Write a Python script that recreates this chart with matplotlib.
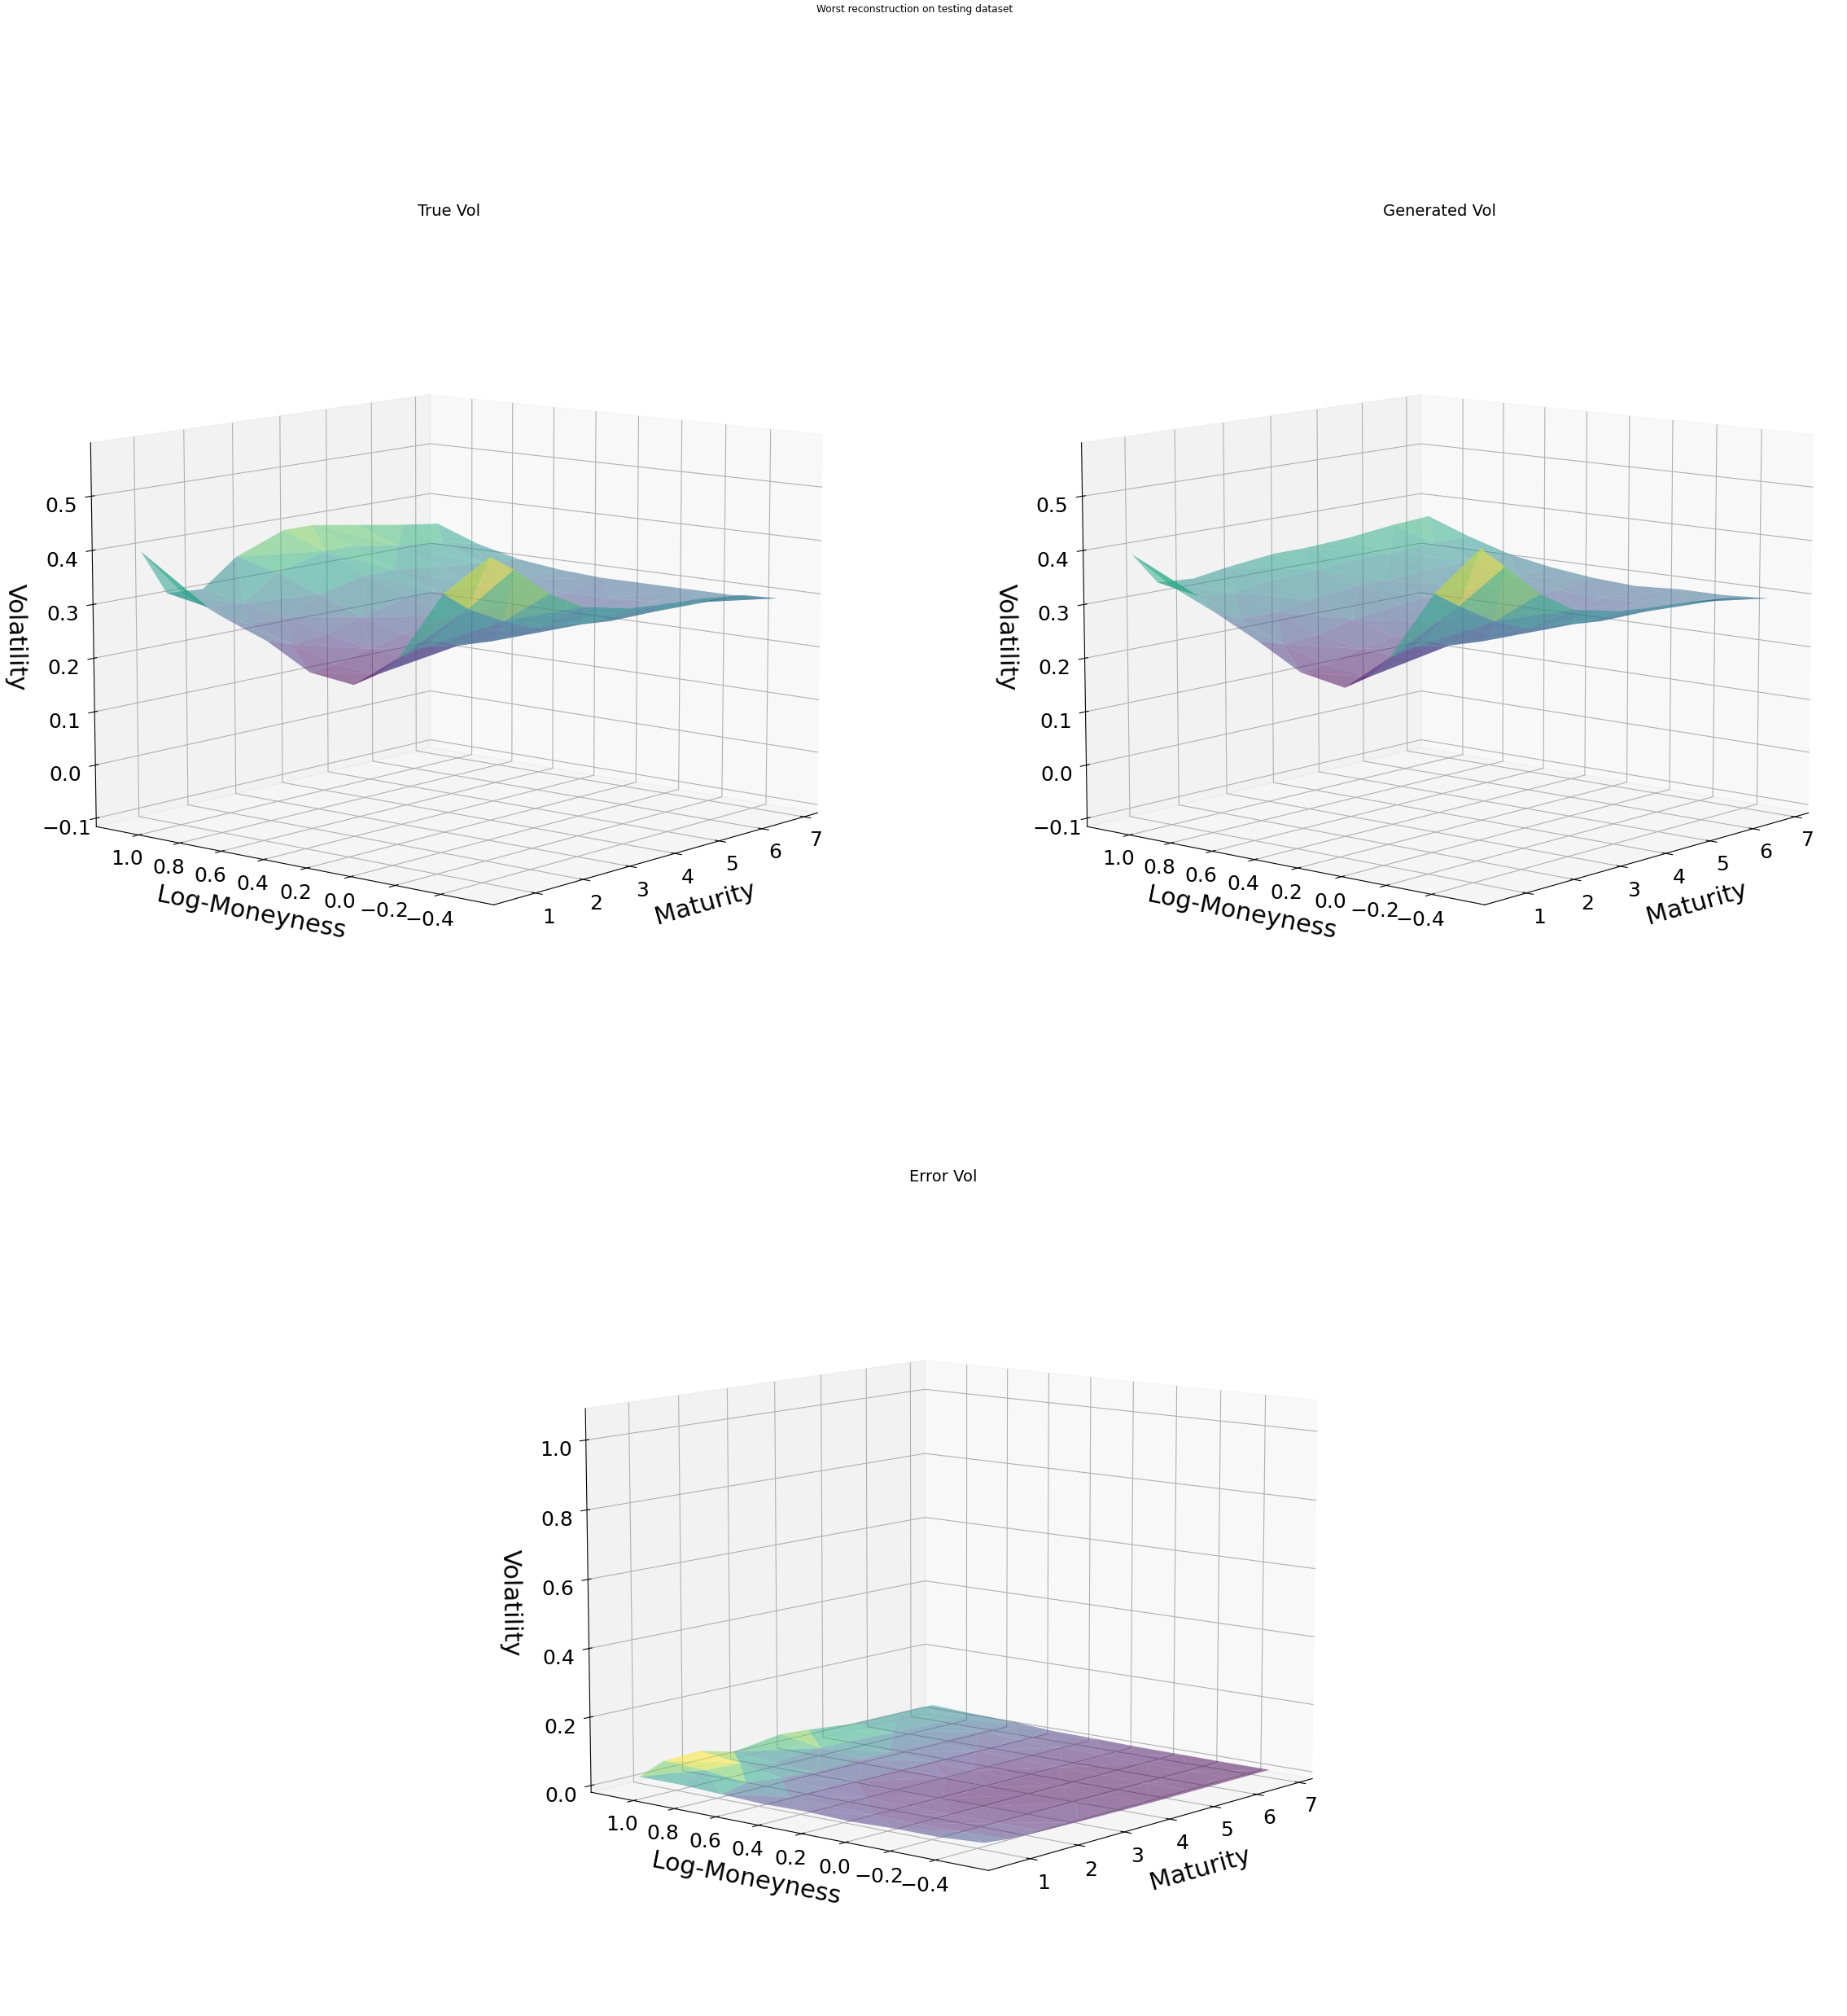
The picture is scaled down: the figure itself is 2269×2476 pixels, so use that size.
import matplotlib
matplotlib.use('Agg')
import matplotlib.pyplot as plt
import numpy as np

moneyness = [1.1, 0.9, 0.7, 0.5, 0.3, 0.1, -0.1, -0.3, -0.5]
maturity = [0.67, 1.17, 1.9, 2.6, 3.6, 4.2, 5.2, 6.2, 7.0]

true_vol = [
    [.395, .330, .295, .265, .220, .210, .270, .395, .470],
    [.310, .295, .275, .250, .225, .220, .280, .360, .440],
    [.305, .290, .275, .255, .240, .235, .270, .325, .385],
    [.355, .335, .305, .275, .255, .245, .265, .300, .350],
    [.390, .360, .325, .295, .270, .255, .265, .290, .330],
    [.390, .360, .325, .295, .270, .255, .270, .285, .325],
    [.375, .345, .315, .290, .270, .260, .270, .285, .320],
    [.360, .335, .305, .285, .270, .270, .275, .285, .310],
    [.350, .320, .300, .290, .285, .285, .285, .285, .290],
]
gen_vol = [
    [.390, .340, .305, .265, .220, .205, .270, .395, .485],
    [.330, .315, .285, .250, .225, .215, .280, .365, .445],
    [.325, .310, .285, .255, .240, .235, .270, .325, .385],
    [.335, .320, .295, .270, .250, .245, .265, .300, .345],
    [.345, .325, .305, .280, .260, .250, .265, .290, .325],
    [.345, .330, .305, .285, .265, .255, .270, .285, .320],
    [.350, .330, .310, .285, .270, .260, .270, .285, .315],
    [.360, .335, .310, .290, .275, .270, .275, .285, .305],
    [.365, .335, .310, .295, .285, .280, .285, .285, .290],
]
error_vol = [
    [.020, .020, .015, .010, .012, .008, .012, .012, .020],
    [.050, .045, .030, .012, .010, .008, .006, .008, .012],
    [.055, .040, .020, .012, .008, .006, .006, .006, .008],
    [.028, .018, .012, .008, .006, .004, .004, .005, .006],
    [.048, .028, .018, .010, .006, .004, .003, .004, .004],
    [.042, .028, .018, .012, .006, .004, .003, .003, .003],
    [.028, .022, .014, .010, .008, .004, .003, .003, .003],
    [.028, .020, .015, .010, .008, .006, .004, .003, .003],
    [.028, .022, .018, .010, .008, .005, .004, .003, .003],
]

money_ticks = [1.0, 0.8, 0.6, 0.4, 0.2, 0.0, -0.2, -0.4]
mat_ticks = [1, 2, 3, 4, 5, 6, 7]
vol_ticks = [-0.1, 0.0, 0.1, 0.2, 0.3, 0.4, 0.5]
err_ticks = [0.0, 0.2, 0.4, 0.6, 0.8, 1.0]


def draw_surface(fig, rect, title, values, zlim, zticks):
    ax = fig.add_axes(rect, projection='3d')
    xx, yy = np.meshgrid(maturity, moneyness, indexing='ij')
    ax.plot_trisurf(xx.ravel(), yy.ravel(), np.array(values).ravel(),
                    cmap='viridis', alpha=0.5, linewidth=0)
    ax.view_init(elev=10, azim=-140)
    ax.set_xlim(0.15, 7.33)
    ax.set_ylim(-0.63, 1.21)
    ax.set_zlim(*zlim)
    ax.set_xticks(mat_ticks)
    ax.set_yticks(money_ticks)
    ax.set_zticks(zticks)
    ax.tick_params(labelsize=18)
    ax.tick_params(axis='z', pad=7)
    ax.set_xlabel('Maturity', fontsize=22, labelpad=16)
    ax.set_ylabel('Log-Moneyness', fontsize=22, labelpad=16)
    ax.set_zlabel('Volatility', fontsize=22, labelpad=18)
    ax.set_title(title, fontsize=14, pad=22)
    return ax


def main():
    fig = plt.figure(figsize=(22.69, 24.76), dpi=100)
    fig.suptitle('Worst reconstruction on testing dataset', fontsize=8.7, x=0.495, y=0.998)
    w = 0.434
    h = 0.398
    draw_surface(fig, [0.0259, 0.4828, w, h], 'True Vol', true_vol, (-0.116, 0.598), vol_ticks)
    draw_surface(fig, [0.5624, 0.4828, w, h], 'Generated Vol', gen_vol, (-0.116, 0.598), vol_ticks)
    draw_surface(fig, [0.2938, 0.0038, w, h], 'Error Vol', error_vol, (-0.02, 1.09), err_ticks)
    fig.savefig('out.png', dpi=100)


if __name__ == '__main__':
    main()
